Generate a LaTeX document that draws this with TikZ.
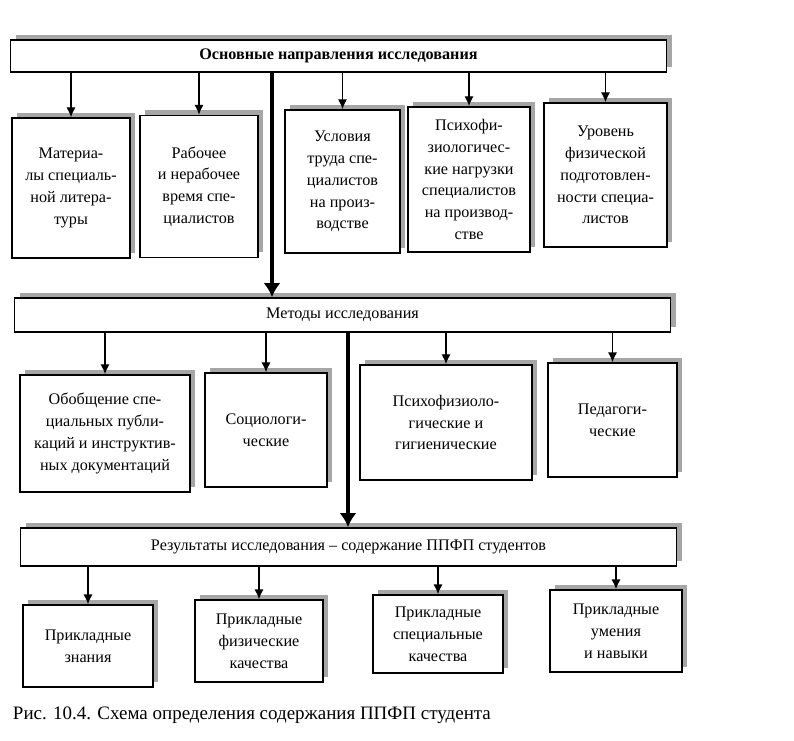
\documentclass[tikz,border=0pt]{standalone}
\usepackage{fontspec}
\setmainfont{Liberation Serif}
\usepackage{tikz}
\usetikzlibrary{arrows.meta,shadows}

\tikzset{
  box/.style={draw, line width=1.1pt, fill=white, align=center, inner sep=2pt,
    font=\fontsize{11.5}{15.5}\selectfont,
    drop shadow={shadow xshift=0.13cm, shadow yshift=0.13cm, fill=gray!70, opacity=1}},
  bar/.style={box, minimum width=16.4cm},
  thin arrow/.style={->, line width=0.9pt},
  main arrow/.style={->, line width=2.6pt, >={Latex[length=10pt,width=12pt]}}
}

\begin{document}
\begin{tikzpicture}[x=0.025cm, y=-0.025cm, >={Latex[length=7pt,width=6.5pt]}]
  \useasboundingbox (0,0) rectangle (794,741);
  % directions
  \node[bar, minimum height=0.8cm, font=\fontsize{11.5}{15.5}\selectfont\bfseries] (dir) at (338.5,56) {Основные направления исследования};
  \node[box, minimum width=2.95cm, minimum height=3.5cm] (mat) at (71,188) {Материа-\\лы специаль-\\ной литера-\\туры};
  \node[box, minimum width=2.95cm, minimum height=3.55cm] (tim) at (199,186.5) {Рабочее\\и нерабочее\\время спе-\\циалистов};
  \node[box, minimum width=2.88cm, minimum height=3.58cm] (cond) at (342.5,181.5) {Условия\\труда спе-\\циалистов\\на произ-\\водстве};
  \node[box, minimum width=3.05cm, minimum height=3.63cm] (load) at (469,179.5) {Психофи-\\зиологичес-\\кие нагрузки\\специалистов\\на производ-\\стве};
  \node[box, minimum width=3.08cm, minimum height=3.6cm] (lev) at (605.5,175) {Уровень\\физической\\подготовлен-\\ности специа-\\листов};
  % methods
  \node[bar, minimum height=0.85cm] (meth) at (342.5,315) {Методы исследования};
  \node[box, minimum width=4.25cm, minimum height=2.93cm] (gen) at (105,433.5) {Обобщение спе-\\циальных публи-\\каций и инструктив-\\ных документаций};
  \node[box, minimum width=3.05cm, minimum height=2.85cm] (soc) at (266,430) {Социологи-\\ческие};
  \node[box, minimum width=4.3cm, minimum height=2.88cm] (psy) at (446,422.5) {Психофизиоло-\\гические и\\гигиенические};
  \node[box, minimum width=3.23cm, minimum height=2.85cm] (ped) at (612.5,420) {Педагоги-\\ческие};
  % results
  \node[bar, minimum height=0.95cm] (res) at (348.5,547) {Результаты исследования – содержание ППФП студентов};
  \node[box, minimum width=3.25cm, minimum height=2.05cm] (know) at (88,646) {Прикладные\\знания};
  \node[box, minimum width=3.2cm, minimum height=2.05cm] (phys) at (259,641) {Прикладные\\физические\\качества};
  \node[box, minimum width=3.25cm, minimum height=1.95cm] (spec) at (438,634) {Прикладные\\специальные\\качества};
  \node[box, minimum width=3.3cm, minimum height=2.05cm] (skill) at (616,631) {Прикладные\\умения\\и навыки};

  \foreach \b in {mat,tim,cond,load,lev}
    \draw[thin arrow] (dir.south -| \b.north) -- (\b.north);
  \foreach \b in {gen,soc,psy,ped}
    \draw[thin arrow] (meth.south -| \b.north) -- (\b.north);
  \foreach \b in {know,phys,spec,skill}
    \draw[thin arrow] (res.south -| \b.north) -- (\b.north);

  \coordinate (tk1) at (272,0);
  \coordinate (tk2) at (348,0);
  \draw[main arrow] (dir.south -| tk1) -- (meth.north -| tk1);
  \draw[main arrow] (meth.south -| tk2) -- (res.north -| tk2);

  \node[anchor=west, font=\fontsize{13.5}{16}\selectfont] (cap) at (8,715) {Рис. 10.4. Схема определения содержания ППФП студента};
\end{tikzpicture}
\end{document}
